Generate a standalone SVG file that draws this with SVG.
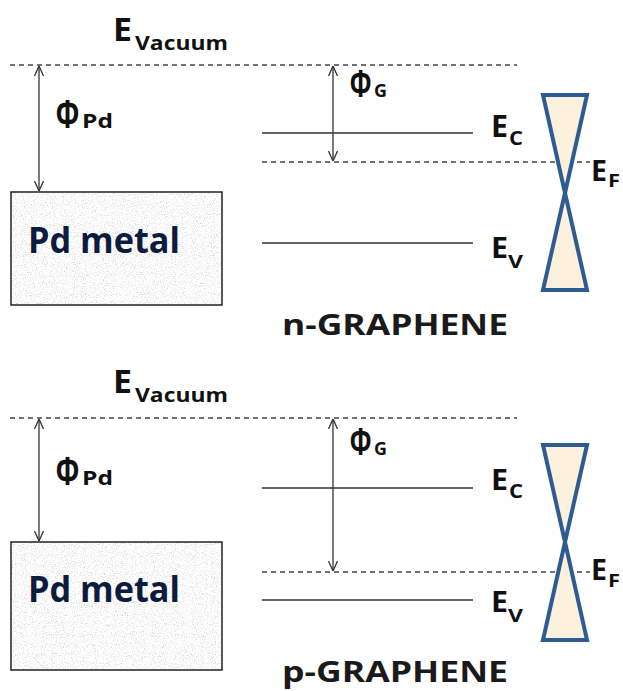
<svg xmlns="http://www.w3.org/2000/svg" width="623" height="691" viewBox="0 0 623 691">
<style>
.t{font-family:"Open Sans","Liberation Sans",sans-serif;fill:#111;}
.big{font-size:32px;font-weight:bold;}
.sub{font-family:"Open Sans","Liberation Sans",sans-serif;font-size:20px;font-weight:bold;}
.phi{font-family:"Liberation Sans","Open Sans",sans-serif;font-size:40px;font-weight:bold;fill:#111;}
.metal{font-family:"Open Sans","Liberation Sans",sans-serif;font-size:36px;font-weight:bold;fill:#0d1b3e;}
.gr{font-family:"Open Sans","Liberation Sans",sans-serif;font-size:28px;font-weight:bold;fill:#1a1a1a;}
.dash{stroke:#444;stroke-width:1.3;stroke-dasharray:5 4;fill:none;}
.lvl{stroke:#333;stroke-width:1.5;fill:none;}
.arr{stroke:#333;stroke-width:1.3;fill:none;marker-start:url(#ah);marker-end:url(#ah);}
.box{stroke:#222;stroke-width:1.5;fill:none;}
.cone{stroke:#2e5b94;stroke-width:4;fill:#fcf1dc;stroke-linejoin:miter;}
</style>
<defs>
<marker id="ah" viewBox="0 0 10 10" refX="10" refY="5" markerWidth="10" markerHeight="10" markerUnits="userSpaceOnUse" orient="auto-start-reverse">
<path d="M0,0.5 L10,5 L0,9.5" fill="none" stroke="#333" stroke-width="1.3"/>
</marker>
<filter id="grain" x="0" y="0" width="1" height="1">
<feTurbulence type="fractalNoise" baseFrequency="0.9" numOctaves="2" seed="4" result="n"/>
<feColorMatrix in="n" type="matrix" values="0.5 0.5 0.5 0 0.22  0.5 0.5 0.5 0 0.22  0.5 0.5 0.5 0 0.22  0 0 0 0 1" result="g"/>
<feComposite in="g" in2="SourceGraphic" operator="in"/>
</filter>
</defs>
<rect width="623" height="691" fill="#fff"/>

<g id="connectors">
<line class="dash" x1="10" y1="65" x2="517" y2="65"/>
<line class="dash" x1="262" y1="162" x2="590" y2="162"/>
<line class="lvl" x1="262" y1="133" x2="473" y2="133"/>
<line class="lvl" x1="262" y1="243" x2="473" y2="243"/>
<line class="arr" x1="39" y1="66" x2="39" y2="191"/>
<line class="arr" x1="333" y1="66" x2="333" y2="161"/>

<line class="dash" x1="10" y1="418" x2="517" y2="418"/>
<line class="dash" x1="262" y1="572" x2="590" y2="572"/>
<line class="lvl" x1="262" y1="488" x2="473" y2="488"/>
<line class="lvl" x1="262" y1="600" x2="473" y2="600"/>
<line class="arr" x1="39" y1="419" x2="39" y2="541"/>
<line class="arr" x1="333" y1="419" x2="333" y2="571"/>
</g>

<g id="n-metal">
<rect x="11" y="192" width="211" height="113" fill="#ddd" filter="url(#grain)"/>
<rect class="box" x="11" y="192" width="211" height="113"/>
<text class="metal" x="28" y="253" textLength="152" lengthAdjust="spacingAndGlyphs">Pd metal</text>
</g>
<g id="n-vacuum-label">
<text class="t big" x="113" y="41" textLength="19" lengthAdjust="spacingAndGlyphs">E</text>
<text class="t sub" x="135" y="50" textLength="93" lengthAdjust="spacingAndGlyphs">Vacuum</text>
</g>
<g id="n-phipd">
<text class="phi" transform="translate(56 128) scale(0.7 1)">Φ</text>
<text class="t sub" x="82" y="128" style="font-size:19px" textLength="31" lengthAdjust="spacingAndGlyphs">Pd</text>
</g>
<g id="n-phig">
<text class="phi" transform="translate(350 97) scale(0.68 1)" style="font-size:38px">Φ</text>
<text class="t sub" x="374" y="97" style="font-size:18px" textLength="13" lengthAdjust="spacingAndGlyphs">G</text>
</g>
<g id="n-ec">
<text class="t big" x="491" y="137" style="font-size:31px" textLength="17" lengthAdjust="spacingAndGlyphs">E</text>
<text class="t sub" x="509" y="145" textLength="14" lengthAdjust="spacingAndGlyphs">C</text>
</g>
<g id="n-ef">
<text class="t big" x="591" y="181" style="font-size:29px" textLength="16" lengthAdjust="spacingAndGlyphs">E</text>
<text class="t sub" x="608" y="187" style="font-size:18px" textLength="12" lengthAdjust="spacingAndGlyphs">F</text>
</g>
<g id="n-ev">
<text class="t big" x="491" y="258" style="font-size:29px" textLength="17" lengthAdjust="spacingAndGlyphs">E</text>
<text class="t sub" x="508" y="268" style="font-size:18px" textLength="15" lengthAdjust="spacingAndGlyphs">V</text>
</g>
<g id="n-cone">
<polygon class="cone" points="543,95 587,95 565,193"/>
<polygon class="cone" points="565,193 587,290 543,290"/>
</g>
<g id="n-graphene">
<text class="gr" x="282" y="335" textLength="226" lengthAdjust="spacingAndGlyphs">n-GRAPHENE</text>
</g>

<g id="p-metal">
<rect x="11" y="542" width="211" height="128" fill="#ddd" filter="url(#grain)"/>
<rect class="box" x="11" y="542" width="211" height="128"/>
<text class="metal" x="28" y="602" textLength="152" lengthAdjust="spacingAndGlyphs">Pd metal</text>
</g>
<g id="p-vacuum-label">
<text class="t big" x="113" y="393" textLength="19" lengthAdjust="spacingAndGlyphs">E</text>
<text class="t sub" x="135" y="402" textLength="93" lengthAdjust="spacingAndGlyphs">Vacuum</text>
</g>
<g id="p-phipd">
<text class="phi" transform="translate(56 485) scale(0.7 1)">Φ</text>
<text class="t sub" x="82" y="485" style="font-size:19px" textLength="31" lengthAdjust="spacingAndGlyphs">Pd</text>
</g>
<g id="p-phig">
<text class="phi" transform="translate(350 455) scale(0.68 1)" style="font-size:38px">Φ</text>
<text class="t sub" x="374" y="455" style="font-size:18px" textLength="13" lengthAdjust="spacingAndGlyphs">G</text>
</g>
<g id="p-ec">
<text class="t big" x="491" y="490" style="font-size:29px" textLength="17" lengthAdjust="spacingAndGlyphs">E</text>
<text class="t sub" x="509" y="498" textLength="14" lengthAdjust="spacingAndGlyphs">C</text>
</g>
<g id="p-ef">
<text class="t big" x="591" y="580" style="font-size:29px" textLength="16" lengthAdjust="spacingAndGlyphs">E</text>
<text class="t sub" x="608" y="587" style="font-size:18px" textLength="12" lengthAdjust="spacingAndGlyphs">F</text>
</g>
<g id="p-ev">
<text class="t big" x="491" y="612" style="font-size:29px" textLength="17" lengthAdjust="spacingAndGlyphs">E</text>
<text class="t sub" x="508" y="622" style="font-size:18px" textLength="15" lengthAdjust="spacingAndGlyphs">V</text>
</g>
<g id="p-cone">
<polygon class="cone" points="543,445 587,445 565,542"/>
<polygon class="cone" points="565,542 587,640 543,640"/>
</g>
<g id="p-graphene">
<text class="gr" x="282" y="682" textLength="226" lengthAdjust="spacingAndGlyphs">p-GRAPHENE</text>
</g>
</svg>
